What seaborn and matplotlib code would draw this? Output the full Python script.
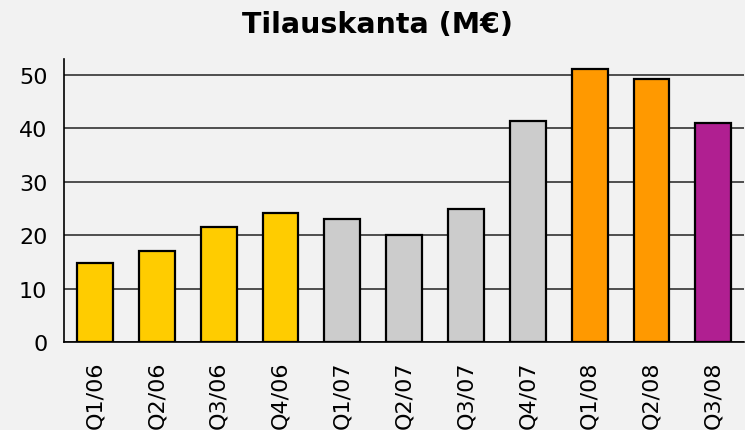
import numpy as np
import pandas as pd
import seaborn as sns
import matplotlib.pyplot as plt

# Tilauskanta neljänneksittäin
kvartaalit = ["Q1/06", "Q2/06", "Q3/06", "Q4/06", "Q1/07", "Q2/07",
              "Q3/07", "Q4/07", "Q1/08", "Q2/08", "Q3/08"]
tilauskanta = [14.9, 17.1, 21.5, 24.2, 23.0, 20.0, 24.9, 41.3, 51.0, 49.2, 40.9]
varit = ["#FFCC00"] * 4 + ["#CCCCCC"] * 4 + ["#FF9900"] * 2 + ["#B01F91"]

df = pd.DataFrame({"Kvartaali": kvartaalit, "Tilauskanta": tilauskanta})

sns.set_style("white")
plt.rcParams["font.family"] = ["DejaVu Sans"]
plt.rcParams["text.color"] = "black"
plt.rcParams["xtick.color"] = "black"
plt.rcParams["ytick.color"] = "black"

fig = plt.figure(figsize=(7.45, 4.31), dpi=100, facecolor="#F2F2F2")
ax = fig.add_axes([0.086, 0.2035, 0.913, 0.658])
ax.set_facecolor("#F2F2F2")

sns.barplot(data=df, x="Kvartaali", y="Tilauskanta", hue="Kvartaali",
            palette=varit, saturation=1, legend=False, width=0.58,
            edgecolor="black", linewidth=1.6, zorder=3, ax=ax)

ax.set_ylim(0, 53)
ax.set_xlim(-0.5, len(kvartaalit) - 0.5)
ax.set_yticks([0, 10, 20, 30, 40, 50])
ax.yaxis.grid(True, color="#333333", linewidth=1.2, zorder=0)
ax.set_axisbelow(True)

# rajaviivat kategorioiden väleissä
ax.set_xticks(np.arange(len(kvartaalit) + 1) - 0.5, minor=True)
ax.tick_params(axis="x", which="minor", length=6, width=1.2, color="black", direction="out")
ax.tick_params(axis="x", which="major", length=0, labelsize=16, rotation=90, pad=13)
ax.tick_params(axis="y", length=6, width=1.2, color="black", direction="out",
               labelsize=16, pad=6)

for s in ["top", "right"]:
    ax.spines[s].set_visible(False)
for s in ["left", "bottom"]:
    ax.spines[s].set_color("black")
    ax.spines[s].set_linewidth(1.2)

ax.set_xlabel("")
ax.set_ylabel("")
fig.suptitle("Tilauskanta (M€)", fontsize=20.5, fontweight="bold", x=0.507, y=0.975)

plt.savefig("out.png", dpi=100, facecolor=fig.get_facecolor())
